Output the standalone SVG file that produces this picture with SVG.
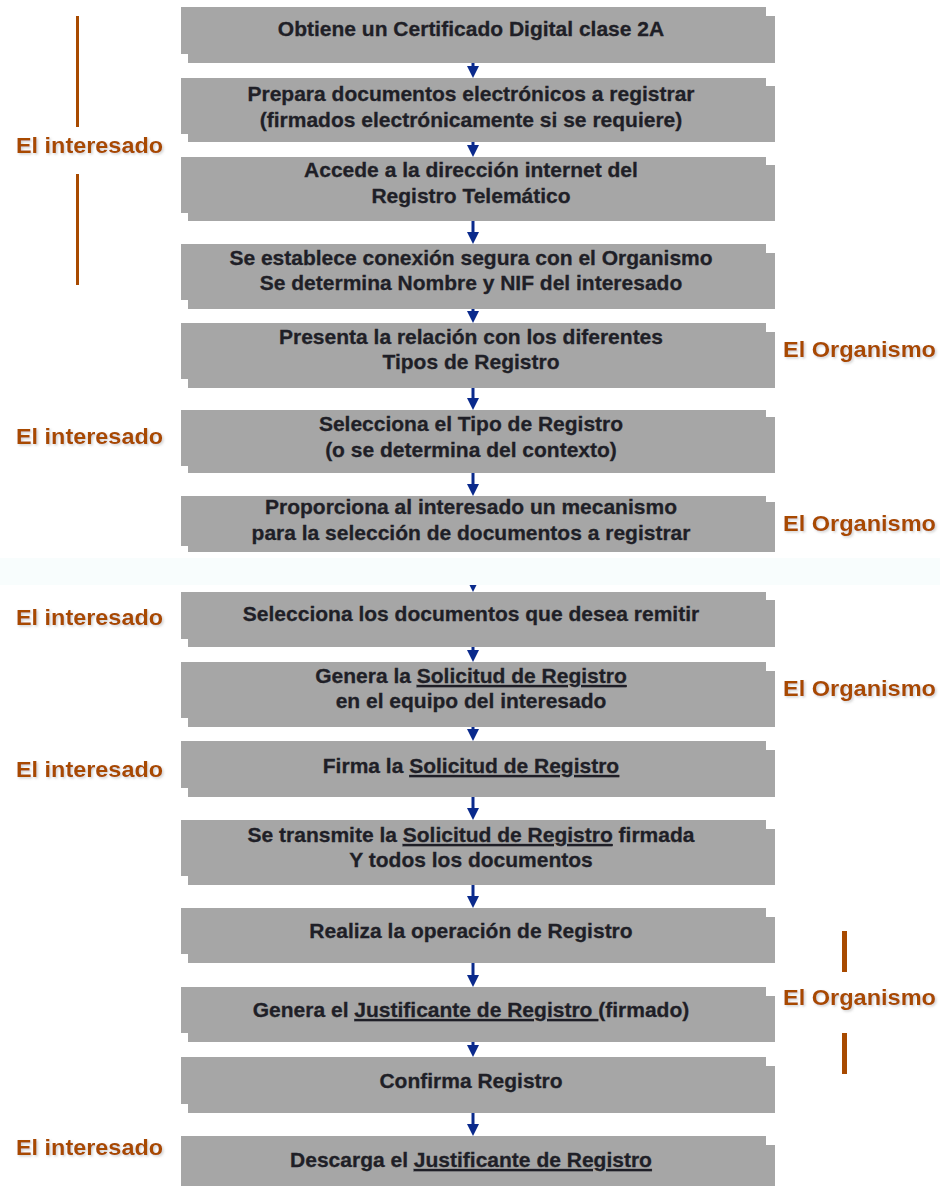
<svg xmlns="http://www.w3.org/2000/svg" width="940" height="1186" viewBox="0 0 940 1186">
<defs>
<style>
.bx{fill:#a6a6a6}
.t{font-family:"Liberation Sans",Arial,sans-serif;font-weight:bold;font-size:21px;fill:#1f1f27;stroke:#1f1f27;stroke-width:0.3px;text-anchor:middle}
.u{text-decoration:underline;text-decoration-thickness:2.5px;text-underline-offset:3.5px}
.lb{font-family:"Liberation Sans",Arial,sans-serif;font-weight:bold;font-size:22.5px;fill:#a84a00;filter:url(#ts)}
.bar{fill:#a84a00}
.ar{stroke:#0a2a8c;stroke-width:3;fill:none;marker-end:url(#ah)}
</style>
<marker id="ah" viewBox="0 0 12 12" refX="6" refY="6" markerWidth="12" markerHeight="12" markerUnits="userSpaceOnUse" orient="auto">
<path d="M0,0 L12,6 L0,12 z" fill="#0a2a8c"/>
</marker>
<filter id="ts" x="-10%" y="-30%" width="120%" height="160%">
<feDropShadow dx="1.5" dy="1.5" stdDeviation="0.8" flood-color="#999999" flood-opacity="0.45"/>
</filter>
</defs>
<rect width="940" height="1186" fill="#ffffff"/>

<g id="connectors">
<line class="ar" x1="473" y1="63" x2="473" y2="72"/>
<line class="ar" x1="473" y1="142" x2="473" y2="151"/>
<line class="ar" x1="473" y1="221" x2="473" y2="238"/>
<line class="ar" x1="473" y1="309" x2="473" y2="317"/>
<line class="ar" x1="473" y1="388" x2="473" y2="404"/>
<line class="ar" x1="473" y1="473" x2="473" y2="490"/>
<line class="ar" x1="473" y1="578" x2="473" y2="586"/>
<line class="ar" x1="473" y1="647" x2="473" y2="656"/>
<line class="ar" x1="473" y1="727" x2="473" y2="735"/>
<line class="ar" x1="473" y1="797" x2="473" y2="814"/>
<line class="ar" x1="473" y1="885" x2="473" y2="902"/>
<line class="ar" x1="473" y1="963" x2="473" y2="981"/>
<line class="ar" x1="473" y1="1042" x2="473" y2="1051"/>
<line class="ar" x1="473" y1="1113" x2="473" y2="1130"/>
</g>

<rect id="band" x="0" y="558" width="940" height="27" fill="#f8fdfd"/>

<g id="n1"><rect class="bx" x="188" y="16" width="587" height="47"/><rect class="bx" x="181" y="7" width="585" height="47"/>
<text class="t" x="471" y="36">Obtiene un Certificado Digital clase 2A</text></g>
<g id="n2"><rect class="bx" x="188" y="86" width="587" height="56"/><rect class="bx" x="181" y="78" width="585" height="56"/>
<text class="t" x="471" y="101">Prepara documentos electrónicos a registrar</text>
<text class="t" x="471" y="127">(firmados electrónicamente si se requiere)</text></g>
<g id="n3"><rect class="bx" x="188" y="165" width="587" height="56"/><rect class="bx" x="181" y="157" width="585" height="56"/>
<text class="t" x="471" y="177">Accede a la dirección internet  del</text>
<text class="t" x="471" y="203">Registro Telemático</text></g>
<g id="n4"><rect class="bx" x="188" y="253" width="587" height="56"/><rect class="bx" x="181" y="244" width="585" height="56"/>
<text class="t" x="471" y="265">Se establece conexión segura con el Organismo</text>
<text class="t" x="471" y="290">Se determina Nombre y NIF del interesado</text></g>
<g id="n5"><rect class="bx" x="188" y="332" width="587" height="56"/><rect class="bx" x="181" y="323" width="585" height="56"/>
<text class="t" x="471" y="344">Presenta la relación con los diferentes</text>
<text class="t" x="471" y="369">Tipos de Registro</text></g>
<g id="n6"><rect class="bx" x="188" y="417" width="587" height="56"/><rect class="bx" x="181" y="410" width="585" height="56"/>
<text class="t" x="471" y="431">Selecciona el Tipo de Registro</text>
<text class="t" x="471" y="457">(o se determina del contexto)</text></g>
<g id="n7"><rect class="bx" x="188" y="502" width="587" height="50"/><rect class="bx" x="181" y="496" width="585" height="50"/>
<text class="t" x="471" y="514">Proporciona al interesado un mecanismo</text>
<text class="t" x="471" y="540">para la selección de documentos a registrar</text></g>
<g id="n8"><rect class="bx" x="188" y="600" width="587" height="47"/><rect class="bx" x="181" y="592" width="585" height="47"/>
<text class="t" x="471" y="621">Selecciona los documentos que desea remitir</text></g>
<g id="n9"><rect class="bx" x="188" y="671" width="587" height="56"/><rect class="bx" x="181" y="662" width="585" height="56"/>
<text class="t" x="471" y="683">Genera la <tspan class="u">Solicitud de Registro</tspan></text>
<text class="t" x="471" y="708">en el equipo del interesado</text></g>
<g id="n10"><rect class="bx" x="188" y="750" width="587" height="47"/><rect class="bx" x="181" y="741" width="585" height="47"/>
<text class="t" x="471" y="773">Firma la <tspan class="u">Solicitud de Registro</tspan></text></g>
<g id="n11"><rect class="bx" x="188" y="829" width="587" height="56"/><rect class="bx" x="181" y="820" width="585" height="56"/>
<text class="t" x="471" y="842">Se transmite la <tspan class="u">Solicitud de Registro</tspan> firmada</text>
<text class="t" x="471" y="867">Y todos los documentos</text></g>
<g id="n12"><rect class="bx" x="188" y="917" width="587" height="46"/><rect class="bx" x="181" y="908" width="585" height="46"/>
<text class="t" x="471" y="938">Realiza la operación de Registro</text></g>
<g id="n13"><rect class="bx" x="188" y="996" width="587" height="46"/><rect class="bx" x="181" y="987" width="585" height="46"/>
<text class="t" x="471" y="1017">Genera el <tspan class="u">Justificante de Registro </tspan>(firmado)</text></g>
<g id="n14"><rect class="bx" x="188" y="1066" width="587" height="47"/><rect class="bx" x="181" y="1057" width="585" height="47"/>
<text class="t" x="471" y="1088">Confirma Registro</text></g>
<g id="n15"><rect class="bx" x="188" y="1145" width="587" height="50"/><rect class="bx" x="181" y="1136" width="585" height="50"/>
<text class="t" x="471" y="1167">Descarga el <tspan class="u">Justificante de Registro</tspan></text></g>

<g id="labels">
<rect class="bar" x="76" y="16" width="3" height="111"/>
<rect class="bar" x="76" y="174" width="3" height="111"/>
<text class="lb" x="16" y="153" textLength="147" lengthAdjust="spacingAndGlyphs">El interesado</text>
<text class="lb" x="783" y="357" textLength="153" lengthAdjust="spacingAndGlyphs">El Organismo</text>
<text class="lb" x="16" y="444" textLength="147" lengthAdjust="spacingAndGlyphs">El interesado</text>
<text class="lb" x="783" y="531" textLength="153" lengthAdjust="spacingAndGlyphs">El Organismo</text>
<text class="lb" x="16" y="625" textLength="147" lengthAdjust="spacingAndGlyphs">El interesado</text>
<text class="lb" x="783" y="696" textLength="153" lengthAdjust="spacingAndGlyphs">El Organismo</text>
<text class="lb" x="16" y="777" textLength="147" lengthAdjust="spacingAndGlyphs">El interesado</text>
<rect class="bar" x="842" y="931" width="5" height="41"/>
<rect class="bar" x="842" y="1033" width="5" height="41"/>
<text class="lb" x="783" y="1005" textLength="153" lengthAdjust="spacingAndGlyphs">El Organismo</text>
<text class="lb" x="16" y="1155" textLength="147" lengthAdjust="spacingAndGlyphs">El interesado</text>
</g>
</svg>
